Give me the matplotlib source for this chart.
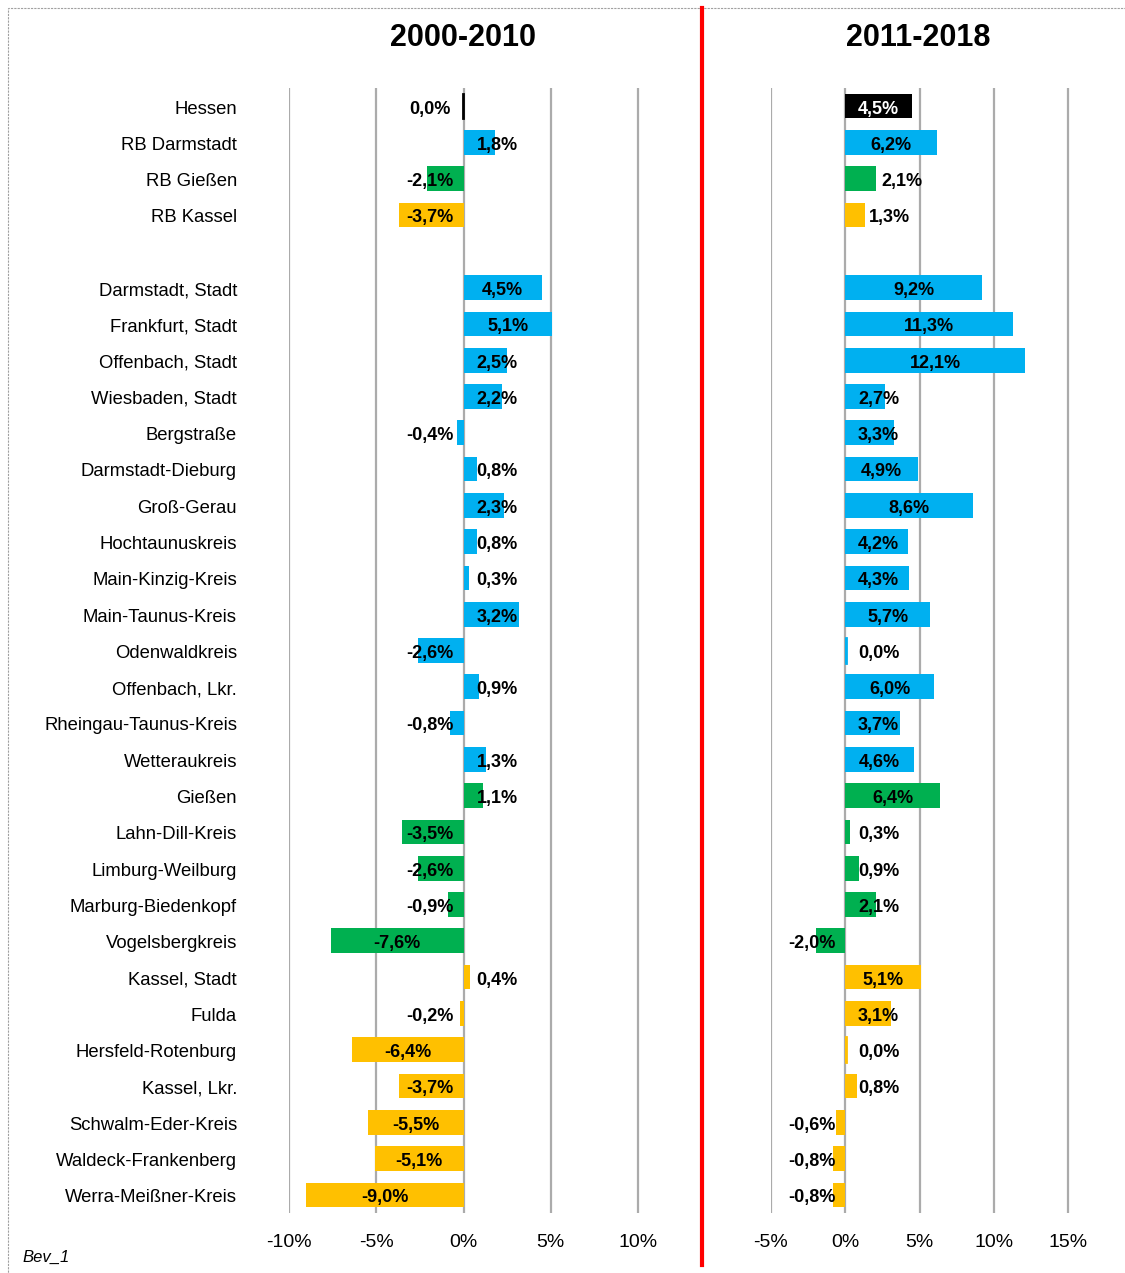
import matplotlib.pyplot as plt
import numpy as np
from matplotlib.patches import Rectangle
from matplotlib.lines import Line2D
from matplotlib.transforms import blended_transform_factory

plt.rcParams['font.family'] = ['Liberation Sans Narrow', 'DejaVu Sans Condensed', 'Liberation Sans', 'DejaVu Sans']

# Daten
regions = ["Hessen", "RB Darmstadt", "RB Gießen", "RB Kassel", "",
           "Darmstadt, Stadt", "Frankfurt, Stadt", "Offenbach, Stadt", "Wiesbaden, Stadt",
           "Bergstraße", "Darmstadt-Dieburg", "Groß-Gerau", "Hochtaunuskreis",
           "Main-Kinzig-Kreis", "Main-Taunus-Kreis", "Odenwaldkreis", "Offenbach, Lkr.",
           "Rheingau-Taunus-Kreis", "Wetteraukreis", "Gießen", "Lahn-Dill-Kreis",
           "Limburg-Weilburg", "Marburg-Biedenkopf", "Vogelsbergkreis", "Kassel, Stadt",
           "Fulda", "Hersfeld-Rotenburg", "Kassel, Lkr.", "Schwalm-Eder-Kreis",
           "Waldeck-Frankenberg", "Werra-Meißner-Kreis"]
groups = ["H", "D", "G", "K", "",
          "D", "D", "D", "D", "D", "D", "D", "D", "D", "D", "D", "D", "D", "D",
          "G", "G", "G", "G", "G",
          "K", "K", "K", "K", "K", "K", "K"]
v2000_2010 = [-0.04, 1.8, -2.1, -3.7, np.nan,
              4.5, 5.1, 2.5, 2.2, -0.4, 0.8, 2.3, 0.8, 0.3, 3.2, -2.6, 0.9, -0.8, 1.3,
              1.1, -3.5, -2.6, -0.9, -7.6,
              0.4, -0.2, -6.4, -3.7, -5.5, -5.1, -9.0]
v2011_2018 = [4.5, 6.2, 2.1, 1.3, np.nan,
              9.2, 11.3, 12.1, 2.7, 3.3, 4.9, 8.6, 4.2, 4.3, 5.7, 0.04, 6.0, 3.7, 4.6,
              6.4, 0.3, 0.9, 2.1, -2.0,
              5.1, 3.1, 0.04, 0.8, -0.6, -0.8, -0.8]
titles = ["2000-2010", "2011-2018"]

colors = {"H": "#000000", "D": "#00B0F0", "G": "#00B050", "K": "#FFC000", "": "white"}

W, H = 1125, 1273
fig = plt.figure(figsize=(W / 100, H / 100), dpi=100)

def px_axes(x0, x1, y0, y1):
    return fig.add_axes([x0 / W, 1 - y1 / H, (x1 - x0) / W, (y1 - y0) / H])

# Achsen: links -10..13.5 (289..699 px), rechts -5..17 (771..1098 px)
ax1 = px_axes(289, 289 + 23.5 * 17.45, 88, 1213)
ax2 = px_axes(771, 771 + 22 * 14.85, 88, 1213)

def draw(ax, vals, xlim, ticks, minoff, overrides, title, title_x):
    ax.set_xlim(*xlim)
    ax.set_ylim(len(regions) - 0.5, -0.5)
    for t in ticks:
        ax.axvline(t, color="#ABABAB", lw=1.6, zorder=0)
    for i, v in enumerate(vals):
        if np.isnan(v):
            continue
        c = colors[groups[i]]
        ax.barh(i, v, height=0.68, color=c, zorder=2)
        if abs(v) < 0.1:
            ax.plot([v, v], [i - 0.34, i + 0.34], color=c, lw=2, zorder=3)
        s = 1 if v >= 0 else -1
        xl = v / 2 if abs(v / 2) >= minoff else s * minoff
        if i in overrides:
            xl = overrides[i]
        txt = "%.1f" % abs(v) if round(v, 1) == 0 else "%.1f" % v
        tc = "white" if groups[i] == "H" and abs(v) / 2 >= minoff else "black"
        ax.text(xl, i + 0.08, txt.replace(".", ",") + "%", ha="center", va="center",
                fontsize=13, fontweight="bold", color=tc, zorder=4)
    ax.set_xticks(ticks)
    ax.set_xticklabels(["%d%%" % t for t in ticks], fontsize=14)
    ax.tick_params(axis="x", length=0, pad=15)
    ax.set_yticks([])
    for sp in ax.spines.values():
        sp.set_visible(False)
    fig.text(title_x / W, 1 - 38 / H, title, ha="center", va="center",
             fontsize=22, fontweight="bold")

draw(ax1, v2000_2010, (-10, 13.5), [-10, -5, 0, 5, 10], 1.92, {}, titles[0], 463)
draw(ax2, v2011_2018, (-5, 17), [-5, 0, 5, 10, 15], 2.25, {2: 3.85, 3: 2.96}, titles[1], 918)

# Kategorien
tr = blended_transform_factory(fig.transFigure, ax1.transData)
for i, r in enumerate(regions):
    ax1.text(237 / W, i + 0.08, r, transform=tr, ha="right", va="center",
             fontsize=13.3, clip_on=False)

# roter Trenner
fig.add_artist(Line2D([702 / W, 702 / W], [1 - 8 / H, 1 - 1265 / H], color="#FF0000", lw=3))

# gestrichelter Rahmen
fig.add_artist(Rectangle((8 / W, -0.01), 1.0, 1 - 8 / H + 0.01, fill=False,
                         edgecolor="#A0A0A0", lw=0.8, ls=(0, (2, 1))))

fig.text(22 / W, 1 - 1257 / H, "Bev_1", fontsize=12, style="italic", va="center")

fig.savefig("out.png", dpi=100)
